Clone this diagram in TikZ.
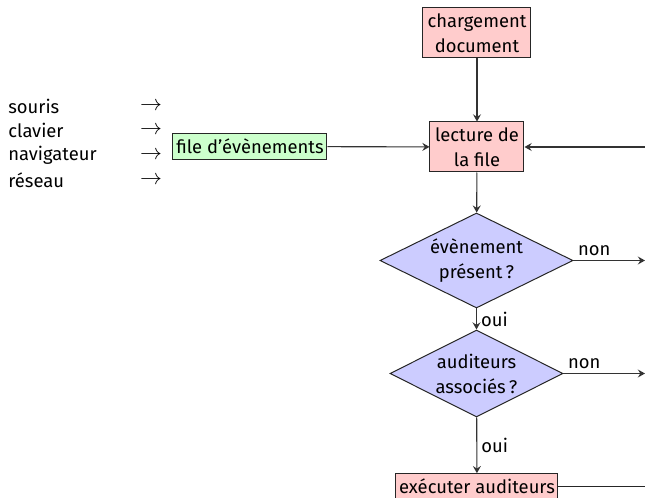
\documentclass[tikz,border=0pt]{standalone}
\usepackage{fontspec}
\setmainfont{Fira Sans}
\usetikzlibrary{shapes.geometric,arrows.meta}
\begin{document}
\begin{tikzpicture}[x=0.5pt,y=-0.5pt,
  every node/.style={font=\fontsize{9.2pt}{12.5pt}\selectfont, inner sep=1pt},
  stepbox/.style={draw=black!85, fill=red!20, align=center, line width=0.5pt},
  queuebox/.style={draw=black!85, fill=green!20, line width=0.5pt},
  testbox/.style={draw=black!85, fill=blue!20, shape=diamond, aspect=2, align=center, inner sep=0pt, line width=0.5pt},
  flow/.style={-{Stealth[length=3.6pt,width=4pt,inset=1.3pt]}, line width=0.55pt, draw=black!80},
  plain/.style={line width=0.55pt, draw=black!85},
  srcarrow/.style={font=\fontsize{11pt}{12pt}\selectfont},
  lbl/.style={inner sep=2pt}]
\useasboundingbox (0,0) rectangle (645,498);

% event sources
\node[anchor=west] (s1) at (6,106) {souris};
\node[anchor=west] (s2) at (6,130.7) {clavier};
\node[anchor=west] (s3) at (6,155.4) {navigateur};
\node[anchor=west] (s4) at (6,180.1) {réseau};
\node[srcarrow] (a1) at (151,106) {$\to$};
\node[srcarrow] (a2) at (151,130.7) {$\to$};
\node[srcarrow] (a3) at (151,155.4) {$\to$};
\node[srcarrow] (a4) at (151,180.1) {$\to$};

% main column
\node[stepbox, minimum width=54pt, minimum height=25pt] (charg) at (477,33) {chargement\\document};
\node[stepbox, minimum width=47pt, minimum height=25pt] (lect) at (477,147) {lecture de\\la file};
\node[queuebox, minimum width=77pt, minimum height=12.8pt] (file) at (250,146.5) {file d’évènements};
\node[testbox, minimum width=96.5pt, minimum height=47.5pt] (d1) at (476.5,260.5) {évènement\\présent\,?};
\node[testbox, minimum width=86.5pt, minimum height=43.5pt] (d2) at (476.5,373.5) {auditeurs\\associés\,?};
\node[stepbox, minimum width=81pt, minimum height=12.8pt] (exec) at (477,486.5) {exécuter auditeurs};

% free ends on the right border
\coordinate (rin) at (645,147);
\coordinate (r1) at (645,260.5);
\coordinate (r2) at (645,373.5);
\coordinate (r3) at (645,486.5);

% connectors
\draw[flow] (charg) -- (lect);
\draw[flow] (file) -- (lect);
\draw[flow] (rin) -- (lect);
\draw[flow] (lect) -- (d1);
\draw[flow] (d1) -- node[lbl, right] {oui} (d2);
\draw[flow] (d2) -- node[lbl, right] {oui} (exec);
\draw[flow] (d1.east) -- node[lbl, above right, pos=0] {non} (r1);
\draw[flow] (d2.east) -- node[lbl, above right, pos=0] {non} (r2);
\draw[plain] (exec) -- (r3);
\end{tikzpicture}
\end{document}
